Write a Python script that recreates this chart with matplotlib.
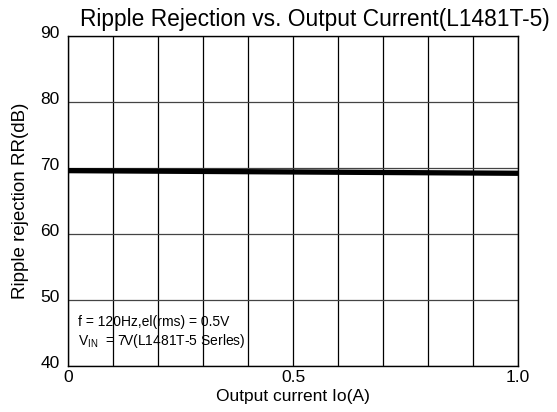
import matplotlib.pyplot as plt
import matplotlib.transforms as mtransforms
import numpy as np

plt.rcParams['font.family'] = ['Liberation Sans', 'DejaVu Sans']

# dados
current = [0.0, 1.0]
rr = [69.6, 69.2]
y_ticks = [40, 50, 60, 70, 80, 90]
x_ticks = [0, 0.5, 1.0]
x_tick_labels = ['0', '0.5', '1.0']

fig = plt.figure(figsize=(5.57, 4.12), dpi=100)
ax = fig.add_axes([68 / 557, 1 - 366 / 412, 450 / 557, 330 / 412])

ax.plot(current, rr, color='black', lw=3.8, solid_capstyle='butt', zorder=3)

ax.set_xlim(0, 1)
ax.set_ylim(40, 90)
ax.set_xticks(np.arange(0, 1.01, 0.1), minor=True)
ax.set_xticks(x_ticks)
ax.set_xticklabels(x_tick_labels)
ax.set_yticks(y_ticks)
ax.grid(True, which='both', axis='x', color='black', lw=0.9)
ax.grid(True, which='major', axis='y', color='#444444', lw=0.9)
ax.tick_params(which='both', length=0, labelsize=12.5)
ax.tick_params(axis='x', pad=3)
ax.tick_params(axis='y', pad=6)
for s in ax.spines.values():
    s.set_linewidth(1.0)

# rótulos do eixo y um pouco acima da linha
offset = mtransforms.ScaledTranslation(0, 3 / 72, fig.dpi_scale_trans)
for lbl in ax.get_yticklabels():
    lbl.set_transform(lbl.get_transform() + offset)

ax.set_xlabel('Output current Io(A)', fontsize=12.5, labelpad=3)
ax.set_ylabel('Ripple rejection RR(dB)', fontsize=13.5, labelpad=8)

fig.text(0.566, 0.952, 'Ripple Rejection vs. Output Current(L1481T-5)',
         ha='center', va='center', fontsize=16.4)

ax.text(0.022, 0.121, 'f = 120Hz,el(rms) = 0.5V', transform=ax.transAxes,
        fontsize=10, va='baseline')
ax.text(0.022, 0.064, r'V$_{\mathregular{IN}}$  = 7V(L1481T-5 Serles)', transform=ax.transAxes,
        fontsize=10, va='baseline')

plt.savefig('out.png', dpi=100)
